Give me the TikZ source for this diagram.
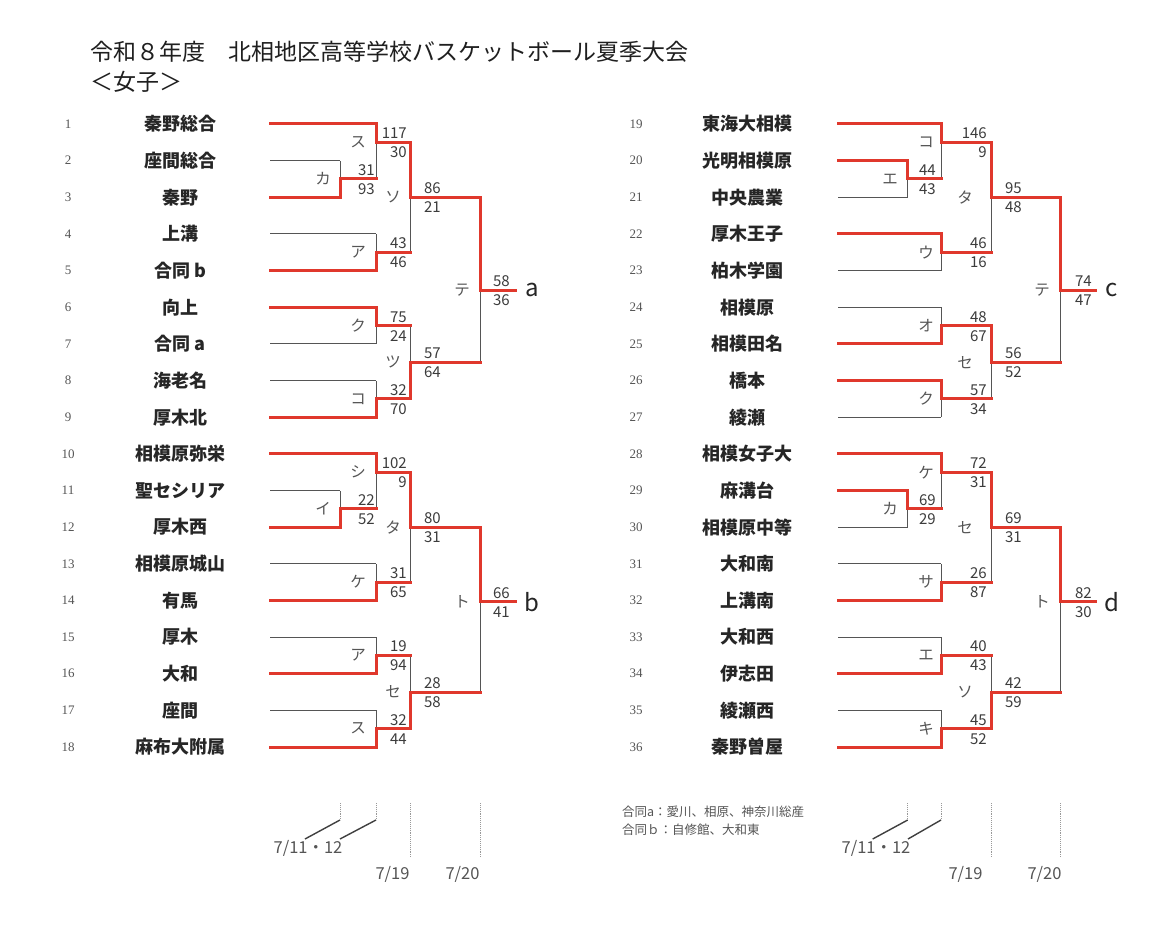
\documentclass[tikz,border=0pt]{standalone}
\usepackage{fontspec}
\setmainfont{Noto Sans CJK JP}
\newfontfamily\seedfont{Liberation Serif}
\definecolor{bred}{RGB}{224,56,44}
\definecolor{lgrey}{RGB}{85,85,85}
\definecolor{sgrey}{RGB}{60,60,60}
\pgfdeclarelayer{bg}
\pgfdeclarelayer{paper}
\pgfsetlayers{paper,bg,main}
\tikzset{
  win/.style={draw=bred, line width=3pt, line cap=rect, line join=miter},
  lose/.style={draw=lgrey, line width=1pt},
  score/.style={anchor=base east, inner sep=0pt, font=\fontsize{15}{15}\selectfont, text=sgrey},
  mlabel/.style={inner sep=0pt, font=\fontsize{15.5}{16}\selectfont, text=lgrey},
  team/.style={inner sep=0pt, font=\fontsize{18}{18}\selectfont\bfseries, text=black!85},
  seed/.style={inner sep=0pt, font=\seedfont\fontsize{13}{13}\selectfont, text=lgrey},
  final/.style={inner sep=0pt, font=\fontsize{24}{24}\selectfont, text=black!85},
  note/.style={anchor=west, inner sep=0pt, font=\fontsize{12.5}{13}\selectfont, text=lgrey},
  datetxt/.style={inner sep=0pt, font=\fontsize{16.5}{17}\selectfont, text=lgrey},
  dayline/.style={draw=lgrey!60, line width=0.9pt, densely dotted},
  slant/.style={draw=black!75, line width=1.4pt},
  titletxt/.style={anchor=west, inner sep=0pt, font=\fontsize{23}{23}\selectfont, text=black!88}
}
\begin{document}
\begin{tikzpicture}[x=1pt,y=-1pt]
\begin{pgfonlayer}{paper}
\fill[white] (0,0) rectangle (1162,952);
\end{pgfonlayer}
\useasboundingbox (0,0) rectangle (1162,952);

% title
\node[titletxt] (title) at (90,52) {令和８年度　北相地区高等学校バスケットボール夏季大会};
\node[titletxt] (subtitle) at (90,82) {＜女子＞};

% seeds and team names
\foreach \i/\nm in {1/秦野総合,2/座間総合,3/秦野,4/上溝,5/合同 b,6/向上,7/合同 a,8/海老名,9/厚木北,
  10/相模原弥栄,11/聖セシリア,12/厚木西,13/相模原城山,14/有馬,15/厚木,16/大和,17/座間,18/麻布大附属,
  19/東海大相模,20/光明相模原,21/中央農業,22/厚木王子,23/柏木学園,24/相模原,25/相模田名,26/橋本,27/綾瀬,
  28/相模女子大,29/麻溝台,30/相模原中等,31/大和南,32/上溝南,33/大和西,34/伊志田,35/綾瀬西,36/秦野曽屋}{
  \pgfmathsetmacro\yy{124+mod(\i-1,18)*36.65}
  \ifnum\i<19
    \node[seed] (N\i) at (68,\yy) {\i};
    \node[team] (T\i) at (180,\yy) {\nm};
  \else
    \node[seed] (N\i) at (636,\yy) {\i};
    \node[team] (T\i) at (747,\yy) {\nm};
  \fi
}

% team lines
\foreach \i/\xs/\xe/\w in {1/270/376/1,2/270/340/0,3/270/340/1,4/270/376/0,5/270/376/1,6/270/376/1,
  7/270/376/0,8/270/376/0,9/270/376/1,10/270/376/1,11/270/340/0,12/270/340/1,13/270/376/0,14/270/376/1,
  15/270/376/0,16/270/376/1,17/270/376/0,18/270/376/1,
  19/838/941/1,20/838/907.7/1,21/838/907.7/0,22/838/941/1,23/838/941/0,24/838/941/0,25/838/941/1,
  26/838/941/1,27/838/941/0,28/838/941/1,29/838/907.7/1,30/838/907.7/0,31/838/941/0,32/838/941/1,
  33/838/941/0,34/838/941/1,35/838/941/0,36/838/941/1}{
  \pgfmathsetmacro\yy{124+mod(\i-1,18)*36.65}
  \coordinate (S\i) at (\xs,\yy);
  \coordinate (E\i) at (\xe,\yy);
  \ifnum\w=1
    \draw[win] (S\i) -- (E\i);
  \else
    \begin{pgfonlayer}{bg}\draw[lose] (S\i) -- (E\i);\end{pgfonlayer}
  \fi
}

% matches
\foreach \xv/\yt/\yb/\yo/\xo/\w/\lab/\lx/\sx/\sa/\sb [count=\k] in {
  340/160.65/197.3/179/376/1/カ/323/375/31/93,
  376/124/179/142.3/410.7/0/ス/358/407/117/30,
  376/233.95/270.6/252.3/410.7/1/ア/358/407/43/46,
  410.7/142.3/252.3/197.5/480/0/ソ/393/441/86/21,
  376/307.25/343.9/325.6/410.7/0/ク/358/407/75/24,
  376/380.55/417.2/398.9/410.7/1/コ/358/407/32/70,
  410.7/325.6/398.9/362.3/480/1/ツ/393/441/57/64,
  480/197.5/362.3/290/515/0/テ/462/510/58/36,
  340/490.5/527.15/508.8/376/1/イ/323/375/22/52,
  376/453.85/508.8/472.2/410.7/0/シ/358/407/102/9,
  376/563.8/600.45/582.1/410.7/1/ケ/358/407/31/65,
  410.7/472.2/582.1/527.2/480/0/タ/393/441/80/31,
  376/637.1/673.75/655.4/410.7/1/ア/358/407/19/94,
  376/710.4/747.05/728.7/410.7/1/ス/358/407/32/44,
  410.7/655.4/728.7/692/480/1/セ/393/441/28/58,
  480/527.2/692/601.7/515/0/ト/462/510/66/41,
  907.7/160.65/197.3/179/941/0/エ/890/936/44/43,
  941/124/179/142.3/991/0/コ/926/987/146/9,
  941/233.95/270.6/252.3/991/0/ウ/926/987/46/16,
  991/142.3/252.3/197.5/1060/0/タ/965/1022/95/48,
  941/307.25/343.9/325.6/991/1/オ/926/987/48/67,
  941/380.55/417.2/398.9/991/0/ク/926/987/57/34,
  991/325.6/398.9/362.3/1060/0/セ/965/1022/56/52,
  1060/197.5/362.3/290/1095/0/テ/1042/1092/74/47,
  907.7/490.5/527.15/508.8/941/0/カ/890/936/69/29,
  941/453.85/508.8/472.2/991/0/ケ/926/987/72/31,
  941/563.8/600.45/582.1/991/1/サ/926/987/26/87,
  991/472.2/582.1/527.2/1060/0/セ/965/1022/69/31,
  941/637.1/673.75/655.4/991/1/エ/926/987/40/43,
  941/710.4/747.05/728.7/991/1/キ/926/987/45/52,
  991/655.4/728.7/692/1060/1/ソ/965/1022/42/59,
  1060/527.2/692/601.7/1095/0/ト/1042/1092/82/30}{
  \coordinate (M\k-t) at (\xv,\yt);
  \coordinate (M\k-b) at (\xv,\yb);
  \coordinate (M\k-o) at (\xv,\yo);
  \coordinate (M\k-x) at (\xo,\yo);
  \ifnum\w=0
    \begin{pgfonlayer}{bg}\draw[lose] (M\k-o) -- (M\k-b);\end{pgfonlayer}
    \draw[win] (M\k-t) -- (M\k-o) -- (M\k-x);
  \else
    \begin{pgfonlayer}{bg}\draw[lose] (M\k-o) -- (M\k-t);\end{pgfonlayer}
    \draw[win] (M\k-b) -- (M\k-o) -- (M\k-x);
  \fi
  \node[mlabel] (M\k-lab) at (\lx,\yo) {\lab};
  \node[score] (M\k-sa) at (\sx,\yo-3.5) {\sa};
  \node[score] (M\k-sb) at (\sx,\yo+15.5) {\sb};
}

% block labels
\node[final] (fa) at (532,290) {a};
\node[final] (fb) at (532,601.7) {b};
\node[final] (fc) at (1112,290) {c};
\node[final] (fd) at (1112,601.7) {d};

% notes
\node[note] (note1) at (622,812) {合同a：愛川、相原、神奈川総産};
\node[note] (note2) at (622,830) {合同ｂ：自修館、大和東};

% dates, left
\coordinate (dl1t) at (340,803); \coordinate (dl1m) at (340,820); \coordinate (dl1e) at (305,839);
\coordinate (dl2t) at (376,803); \coordinate (dl2m) at (376,820); \coordinate (dl2e) at (340,839);
\coordinate (dl3t) at (410.7,803); \coordinate (dl3b) at (410.7,857);
\coordinate (dl4t) at (480,803); \coordinate (dl4b) at (480,857);
\draw[dayline] (dl1t) -- (dl1m);
\draw[dayline] (dl2t) -- (dl2m);
\draw[slant] (dl1m) -- (dl1e);
\draw[slant] (dl2m) -- (dl2e);
\draw[dayline] (dl3t) -- (dl3b);
\draw[dayline] (dl4t) -- (dl4b);
\node[datetxt] (dL1) at (308,848) {7/11・12};
\node[datetxt] (dL2) at (392.5,874) {7/19};
\node[datetxt] (dL3) at (462.5,874) {7/20};

% dates, right
\coordinate (dr1t) at (907.7,803); \coordinate (dr1m) at (907.7,820); \coordinate (dr1e) at (872.7,839);
\coordinate (dr2t) at (941,803); \coordinate (dr2m) at (941,820); \coordinate (dr2e) at (908,839);
\coordinate (dr3t) at (991,803); \coordinate (dr3b) at (991,857);
\coordinate (dr4t) at (1060,803); \coordinate (dr4b) at (1060,857);
\draw[dayline] (dr1t) -- (dr1m);
\draw[dayline] (dr2t) -- (dr2m);
\draw[slant] (dr1m) -- (dr1e);
\draw[slant] (dr2m) -- (dr2e);
\draw[dayline] (dr3t) -- (dr3b);
\draw[dayline] (dr4t) -- (dr4b);
\node[datetxt] (dR1) at (876,848) {7/11・12};
\node[datetxt] (dR2) at (965.5,874) {7/19};
\node[datetxt] (dR3) at (1044.5,874) {7/20};
\end{tikzpicture}
\end{document}
